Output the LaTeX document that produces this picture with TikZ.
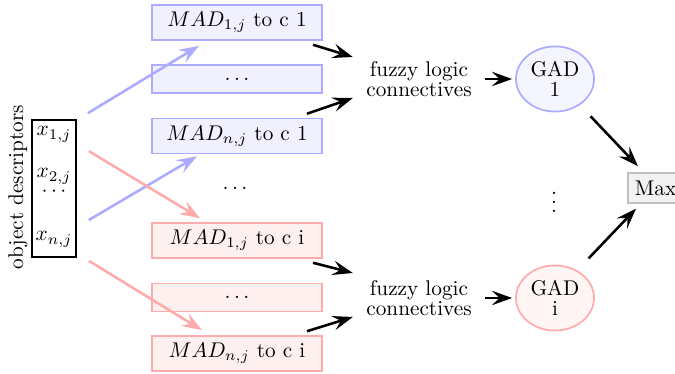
\documentclass[tikz,border=0pt]{standalone}
\usetikzlibrary{arrows.meta,calc,shapes.geometric}
\begin{document}
\begin{tikzpicture}[x=0.47pt,y=-0.47pt,
  every node/.style={font=\normalsize},
  madbox/.style={draw=#1!33, fill=#1!6, thick, minimum width=80pt, minimum height=13.2pt},
  gadnode/.style={ellipse, draw=#1!33, fill=#1!4, thick, minimum width=36.7pt, minimum height=30.6pt, inner sep=0pt, align=center},
  fuzzy/.style={align=center},
  link/.style={very thick, -{Stealth[length=9.5pt,width=6.8pt,inset=3.6pt]}},
  feed/.style={link, draw=#1!33}]
\useasboundingbox (0,0) rectangle (675,374);

% input descriptors
\node[draw, thick, minimum width=20.7pt, minimum height=64.4pt, inner sep=0pt] (desc) at (54,188.5) {};
\node[rotate=90] (lbl) at (18,187) {object descriptors};
\node[anchor=base, inner sep=0pt] (x1) at (54,136) {$x_{1,j}$};
\node[anchor=base, inner sep=0pt] (x2) at (54,178) {$x_{2,j}$};
\node[anchor=base, inner sep=0pt] (xd) at (54,197) {$\cdots$};
\node[anchor=base, inner sep=0pt] (xn) at (54,241) {$x_{n,j}$};

% class 1 group
\node[madbox=blue] (m1) at (237,22.5) {$MAD_{1,j}$ to c 1};
\node[madbox=blue] (md1) at (237,79) {$\dots$};
\node[madbox=blue] (mn1) at (237,136) {$MAD_{n,j}$ to c 1};

% class i group
\node[madbox=red] (mi1) at (237,240.5) {$MAD_{1,j}$ to c i};
\node[madbox=red] (mdi) at (237,297.5) {$\dots$};
\node[madbox=red] (mni) at (237,353.5) {$MAD_{n,j}$ to c i};

\node (gap) at (235,188) {$\dots$};

% aggregation
\node[fuzzy] (f1) at (419,79) {fuzzy logic\\[-2.6pt]connectives};
\node[fuzzy] (fi) at (419,298) {fuzzy logic\\[-2.6pt]connectives};
\node[gadnode=blue] (g1) at (555,79) {GAD\\[-2.6pt]1};
\node[gadnode=red] (gi) at (555,298) {GAD\\[-2.6pt]i};
\node[inner sep=0pt] (vd) at (554,196) {$\vdots$};
\node[draw=gray!50, fill=gray!10, thick, anchor=west, minimum height=14pt] (max) at (627,188) {Max};

% descriptor feeds
\draw[feed=blue] ($(desc.north east)+(11,-6)$) -- ($(m1.south west)+(48,5)$);
\draw[feed=blue] ($(desc.east)+(12,31.5)$) -- ($(mn1.south west)+(46,2)$);
\draw[feed=red] ($(desc.north east)+(12,32)$) -- ($(mi1.north west)+(49,-4)$);
\draw[feed=red] ($(desc.south east)+(12,3)$) -- ($(mni.north west)+(51,-5)$);

% combination
\draw[link] ($(m1.south east)+(-10,4)$) -- ($(f1.west)+(-6,-22)$);
\draw[link] ($(mn1.north east)+(-16,-4)$) -- ($(f1.west)+(-6,19)$);
\draw[link] ($(mi1.south east)+(-10,4)$) -- ($(fi.west)+(-6,-25)$);
\draw[link] ($(mni.north east)+(-16,-4)$) -- ($(fi.west)+(-6,19)$);
\draw[link] ($(f1.east)+(6,0)$) -- ($(g1.west)+(-3,0)$);
\draw[link] ($(fi.east)+(6,0)$) -- ($(gi.west)+(-3,0)$);
\draw[link] ($(g1.south east)+(7.4,13.7)$) -- ($(max.north west)+(11,-6)$);
\draw[link] ($(gi.north east)+(5.4,-16)$) -- ($(max.south west)+(9,5)$);
\end{tikzpicture}
\end{document}
